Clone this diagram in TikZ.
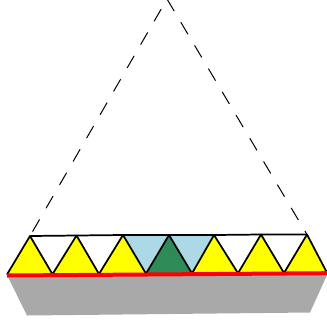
\documentclass[tikz,border=0pt]{standalone}
\tikzset{
  px/.style={x=0.75pt,y=-0.75pt},
  tri/.style={draw=black,line width=1.3pt,line join=round},
  guide/.style={draw=black,line width=0.75pt},
}
\definecolor{ybl}{RGB}{255,255,0}
\definecolor{lbl}{RGB}{173,216,230}
\definecolor{grn}{RGB}{46,139,87}
\definecolor{gry}{RGB}{169,169,169}
\begin{document}
\begin{tikzpicture}[px]
\useasboundingbox (0,0) rectangle (327,322);
\clip (0,0) rectangle (327,322);
\coordinate (A) at (167,-1);
\coordinate (t1) at (30,236);
\coordinate (t2) at (76.5,235.5);
\coordinate (t3) at (123,235);
\coordinate (t4) at (169,235);
\coordinate (t5) at (214,235);
\coordinate (t6) at (261,234.5);
\coordinate (t7) at (307,234.5);
\coordinate (b0) at (7,274.5);
\coordinate (b1) at (52.5,274.2);
\coordinate (b2) at (99,274);
\coordinate (b3) at (146,273.7);
\coordinate (b4) at (192,273.4);
\coordinate (b5) at (238,273.2);
\coordinate (b6) at (284,273);
\coordinate (b7) at (327,272.8);
\fill[gry] (7,275) -- (27,315.5) -- (310,312.5) -- (327,275) -- cycle;
\fill[lbl] (t3) -- (t4) -- (b3) -- cycle;
\fill[lbl] (t4) -- (t5) -- (b4) -- cycle;
\foreach \p/\a/\q in {b0/t1/b1,b1/t2/b2,b2/t3/b3,b4/t5/b5,b5/t6/b6,b6/t7/b7}
  \fill[ybl] (\p) -- (\a) -- (\q) -- cycle;
\fill[grn] (b3) -- (t4) -- (b4) -- cycle;
\draw[tri] (b0) -- (t1) -- (b1) -- (t2) -- (b2) -- (t3) -- (b3) -- (t4) -- (b4) -- (t5) -- (b5) -- (t6) -- (b6) -- (t7) -- (b7);
\draw[tri] (t1) -- (t2) -- (t3) -- (t4) -- (t5) -- (t6) -- (t7);
\draw[red,line width=3pt] (7,275.5) -- (327,273.2);
\draw[guide,dash pattern=on 10.5pt off 9.75pt,dash phase=11.5pt] (A) -- (t1);
\draw[guide,dash pattern=on 10.5pt off 9.75pt] (A) -- (t7);
\end{tikzpicture}
\end{document}
